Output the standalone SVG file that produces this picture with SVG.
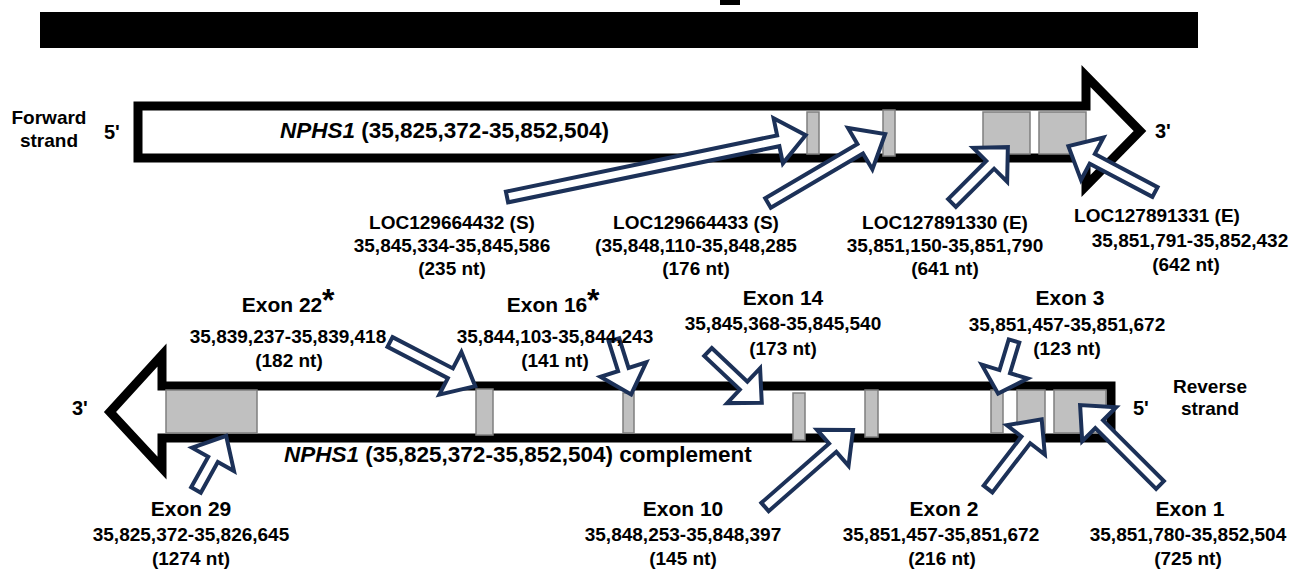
<svg xmlns="http://www.w3.org/2000/svg" width="1290" height="570" viewBox="0 0 1290 570">
<style>
text{font-family:"Liberation Sans",Arial,sans-serif;font-weight:bold;fill:#000}
.lbl{font-size:19px;text-anchor:middle}
.ex{font-size:21px;text-anchor:middle}
.big{font-size:22.5px}
.st{font-size:19px;text-anchor:middle}
.end{font-size:20px}
.ast{font-size:32px}
.strand{fill:#fff;stroke:#000;stroke-width:9;stroke-linejoin:miter;stroke-miterlimit:10}
.exon{fill:#c0c0c0;stroke:#7f7f7f;stroke-width:1.5}
.ba{fill:#fff;stroke:#1c3158;stroke-width:4;stroke-linejoin:miter;stroke-miterlimit:10}
</style>
<rect x="40" y="12" width="1158" height="36" fill="#000"/>
<rect x="720" y="0" width="20" height="5" fill="#000"/>

<g id="forward-strand">
<polygon class="strand" points="138,106 1086,106 1086,76 1140,131 1086,186 1086,158 138,158"/>
<rect class="exon" x="807" y="112" width="12" height="42"/>
<rect class="exon" x="883" y="110" width="12" height="46"/>
<rect class="exon" x="983" y="112" width="47" height="42"/>
<rect class="exon" x="1039" y="112" width="47" height="42"/>
<text class="big" x="280" y="138"><tspan font-style="italic">NPHS1</tspan> (35,825,372-35,852,504)</text>
<text class="st" x="49" y="124">Forward</text>
<text class="st" x="49" y="147">strand</text>
<text class="end" x="104" y="139">5'</text>
<text class="end" x="1155" y="138">3'</text>
</g>

<g id="reverse-strand">
<polygon class="strand" points="1111,386 162,386 162,355 110,412 162,468 162,438 1111,438"/>
<rect class="exon" x="166" y="390" width="91" height="43"/>
<rect class="exon" x="476" y="389" width="17" height="46"/>
<rect class="exon" x="623" y="393" width="11" height="40"/>
<rect class="exon" x="793" y="393" width="12" height="47"/>
<rect class="exon" x="865" y="390" width="13" height="47"/>
<rect class="exon" x="991" y="390" width="12" height="43"/>
<rect class="exon" x="1017" y="390" width="28" height="43"/>
<rect class="exon" x="1054" y="390" width="52" height="43"/>
<text class="big" x="284" y="462"><tspan font-style="italic">NPHS1</tspan> (35,825,372-35,852,504) complement</text>
<text class="st" x="1210" y="393">Reverse</text>
<text class="st" x="1210" y="415">strand</text>
<text class="end" x="72" y="415">3'</text>
<text class="end" x="1133" y="415">5'</text>
</g>

<g id="connectors">
<path class="ba" transform="translate(507,197) rotate(-11.7)" d="M0,-5.5 H277 V-23 L305,0 L277,23 V5.5 H0 Z"/>
<path class="ba" transform="translate(768,203) rotate(-30.5)" d="M0,-5.5 H107 V-24 L136,0 L107,24 V5.5 H0 Z"/>
<path class="ba" transform="translate(952,203) rotate(-45)" d="M0,-5.5 H54 V-24 L79,0 L54,24 V5.5 H0 Z"/>
<path class="ba" transform="translate(1155,192) rotate(-152.1)" d="M0,-5.5 H71 V-24 L98,0 L71,24 V5.5 H0 Z"/>
<path class="ba" transform="translate(390,342) rotate(27.4)" d="M0,-5.5 H68 V-24 L96,0 L68,24 V5.5 H0 Z"/>
<path class="ba" transform="translate(614,340) rotate(72.5)" d="M0,-5.5 H31 V-24 L57,0 L31,24 V5.5 H0 Z"/>
<path class="ba" transform="translate(708,352) rotate(43.4)" d="M0,-5.5 H49 V-24 L74,0 L49,24 V5.5 H0 Z"/>
<path class="ba" transform="translate(1014,341) rotate(106.8)" d="M0,-5.5 H32 V-24 L55,0 L32,24 V5.5 H0 Z"/>
<path class="ba" transform="translate(196,490) rotate(-60.9)" d="M0,-5.5 H35 V-24 L62,0 L35,24 V5.5 H0 Z"/>
<path class="ba" transform="translate(765,507) rotate(-41.2)" d="M0,-5.5 H90 V-24 L117,0 L90,24 V5.5 H0 Z"/>
<path class="ba" transform="translate(988,489) rotate(-52.4)" d="M0,-5.5 H62 V-24 L88,0 L62,24 V5.5 H0 Z"/>
<path class="ba" transform="translate(1160,485) rotate(-135)" d="M0,-5.5 H86 V-24 L113,0 L86,24 V5.5 H0 Z"/>
</g>

<g id="loc129664432">
<text class="lbl" x="452" y="229">LOC129664432 (S)</text>
<text class="lbl" x="452" y="252">35,845,334-35,845,586</text>
<text class="lbl" x="452" y="275">(235 nt)</text>
</g>
<g id="loc129664433">
<text class="lbl" x="696" y="229">LOC129664433 (S)</text>
<text class="lbl" x="696" y="252">(35,848,110-35,848,285</text>
<text class="lbl" x="696" y="275">(176 nt)</text>
</g>
<g id="loc127891330">
<text class="lbl" x="945" y="229">LOC127891330 (E)</text>
<text class="lbl" x="945" y="252">35,851,150-35,851,790</text>
<text class="lbl" x="945" y="275">(641 nt)</text>
</g>
<g id="loc127891331">
<text class="lbl" x="1157" y="222">LOC127891331 (E)</text>
<text class="lbl" x="1190" y="247">35,851,791-35,852,432</text>
<text class="lbl" x="1186" y="271">(642 nt)</text>
</g>

<g id="exon22">
<text class="ex" x="282" y="312">Exon 22</text>
<text class="ast" x="322" y="311">*</text>
<text class="lbl" x="288" y="343">35,839,237-35,839,418</text>
<text class="lbl" x="289" y="367">(182 nt)</text>
</g>
<g id="exon16">
<text class="ex" x="547" y="312">Exon 16</text>
<text class="ast" x="587" y="311">*</text>
<text class="lbl" x="555" y="343">35,844,103-35,844,243</text>
<text class="lbl" x="555" y="367">(141 nt)</text>
</g>
<g id="exon14">
<text class="ex" x="783" y="305">Exon 14</text>
<text class="lbl" x="783" y="330">35,845,368-35,845,540</text>
<text class="lbl" x="783" y="355">(173 nt)</text>
</g>
<g id="exon3">
<text class="ex" x="1070" y="305">Exon 3</text>
<text class="lbl" x="1067" y="331">35,851,457-35,851,672</text>
<text class="lbl" x="1067" y="355">(123 nt)</text>
</g>
<g id="exon29">
<text class="ex" x="191" y="516">Exon 29</text>
<text class="lbl" x="191" y="541">35,825,372-35,826,645</text>
<text class="lbl" x="191" y="565">(1274 nt)</text>
</g>
<g id="exon10">
<text class="ex" x="683" y="516">Exon 10</text>
<text class="lbl" x="683" y="541">35,848,253-35,848,397</text>
<text class="lbl" x="683" y="565">(145 nt)</text>
</g>
<g id="exon2">
<text class="ex" x="944" y="516">Exon 2</text>
<text class="lbl" x="941" y="541">35,851,457-35,851,672</text>
<text class="lbl" x="942" y="565">(216 nt)</text>
</g>
<g id="exon1">
<text class="ex" x="1190" y="516">Exon 1</text>
<text class="lbl" x="1188" y="541">35,851,780-35,852,504</text>
<text class="lbl" x="1188" y="565">(725 nt)</text>
</g>
</svg>
